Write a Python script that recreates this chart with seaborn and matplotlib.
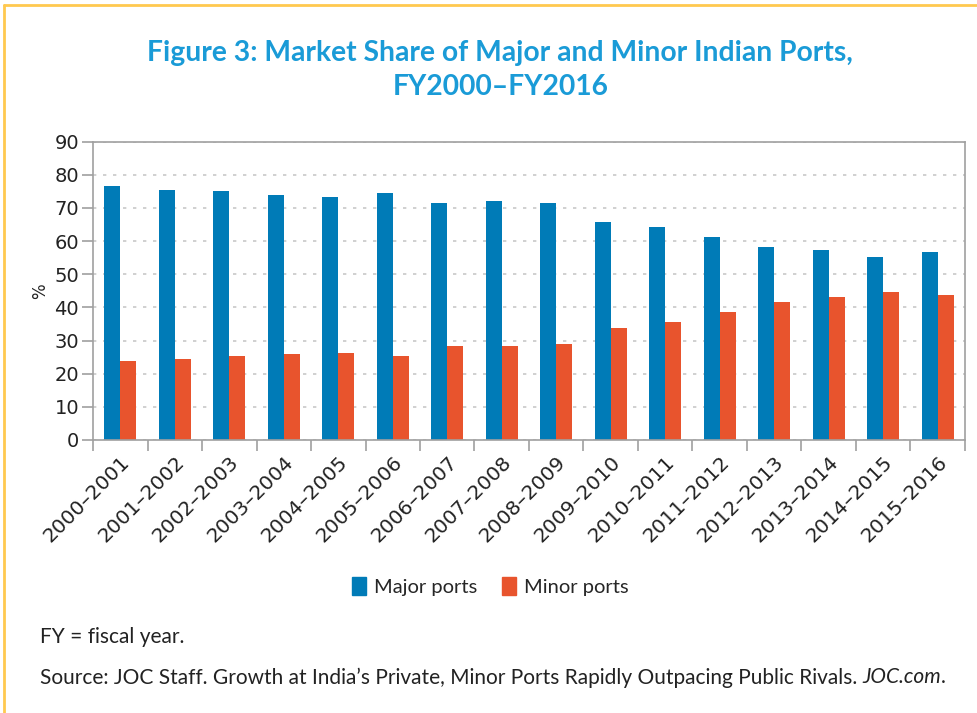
import numpy as np
import pandas as pd
import matplotlib
matplotlib.use("Agg")
import matplotlib.pyplot as plt
from matplotlib.lines import Line2D
import seaborn as sns

# data
years = ["2000–2001", "2001–2002", "2002–2003", "2003–2004", "2004–2005",
         "2005–2006", "2006–2007", "2007–2008", "2008–2009", "2009–2010",
         "2010–2011", "2011–2012", "2012–2013", "2013–2014", "2014–2015",
         "2015–2016"]
major = [76.7, 75.5, 75.2, 74.0, 73.4, 74.6, 71.6, 72.2, 71.6, 65.9,
         64.4, 61.3, 58.3, 57.4, 55.3, 56.8]
minor = [23.9, 24.5, 25.4, 26.0, 26.3, 25.4, 28.4, 28.4, 29.0, 33.8,
         35.6, 38.7, 41.7, 43.2, 44.7, 43.8]
series = ["Major ports", "Minor ports"]
colors = ["#007bb7", "#e8542d"]

df = pd.DataFrame({
    "year": years * 2,
    "share": major + minor,
    "port": [series[0]] * len(years) + [series[1]] * len(years),
})

sns.set_theme(style="white")
plt.rcParams["font.family"] = ["DejaVu Sans"]

fig = plt.figure(figsize=(9.77, 7.13), dpi=100)
ax = fig.add_axes([0.0952, 0.3829, 0.8925, 0.4184])

sns.barplot(data=df, x="year", y="share", hue="port", palette=colors,
            width=0.59, saturation=1, linewidth=0, ax=ax, legend=False)

ax.set_ylim(0, 90)
ax.set_xlim(-0.5, len(years) - 0.5)
ax.set_yticks(range(0, 91, 10))
ax.yaxis.grid(True, color="#c8c8c8", linestyle=(0, (2, 4)), linewidth=1.2)
ax.set_axisbelow(True)
for s in ax.spines.values():
    s.set_color("#a0a0a0")
    s.set_linewidth(1.2)

ax.set_xticks(range(len(years)))
ax.set_xticklabels(years, rotation=45, ha="right", rotation_mode="anchor",
                   fontsize=14.5, color="#222222")
ax.tick_params(axis="x", which="major", length=0, pad=9)
ax.set_xticks(np.arange(-0.5, len(years), 1), minor=True)
ax.tick_params(axis="x", which="minor", length=8, width=1.2, color="#a0a0a0",
               direction="out", bottom=True)
ax.tick_params(axis="y", length=8, width=1.2, color="#a0a0a0", left=True,
               labelsize=14, labelcolor="#222222", pad=2)
ax.set_xlabel("")
ax.set_ylabel("%", fontsize=12, color="#222222", labelpad=4)

fig.text(0.512, 0.902, "Figure 3: Market Share of Major and Minor Indian Ports,\nFY2000–FY2016",
         ha="center", va="center", fontsize=20.3, fontweight="bold",
         color="#1a9bd7", family="Lato", linespacing=1.4)

handles = [plt.Rectangle((0, 0), 1, 1, color=c) for c in colors]
fig.legend(handles, series, loc="center", bbox_to_anchor=(0.502, 0.178),
           ncol=2, frameon=False, handlelength=0.7, handleheight=1.0,
           handletextpad=0.4, columnspacing=1.2,
           prop={"family": "Lato", "size": 14.5})

fig.text(0.041, 0.107, "FY = fiscal year.", fontsize=15, family="Lato",
         color="#222222", va="center")
src = fig.text(0.041, 0.050,
               "Source: JOC Staff. Growth at India’s Private, Minor Ports Rapidly Outpacing Public Rivals. ",
               fontsize=15, family="Lato", color="#222222", va="center")
fig.canvas.draw()
bb = src.get_window_extent(renderer=fig.canvas.get_renderer())
x_end = bb.x1 / fig.bbox.width
fig.text(x_end, 0.050, "JOC.com", fontsize=15, family="Lato", style="italic",
         color="#222222", va="center")
bb2 = fig.texts[-1].get_window_extent(renderer=fig.canvas.get_renderer())
fig.text(bb2.x1 / fig.bbox.width, 0.050, ".", fontsize=15, family="Lato",
         color="#222222", va="center")

# yellow frame at top and left
fig.add_artist(Line2D([0.004, 1.0], [0.993, 0.993], color="#ffc94f", lw=2,
                      transform=fig.transFigure))
fig.add_artist(Line2D([0.004, 0.004], [0.0, 0.993], color="#ffc94f", lw=2,
                      transform=fig.transFigure))

fig.savefig("out.png", dpi=100)
